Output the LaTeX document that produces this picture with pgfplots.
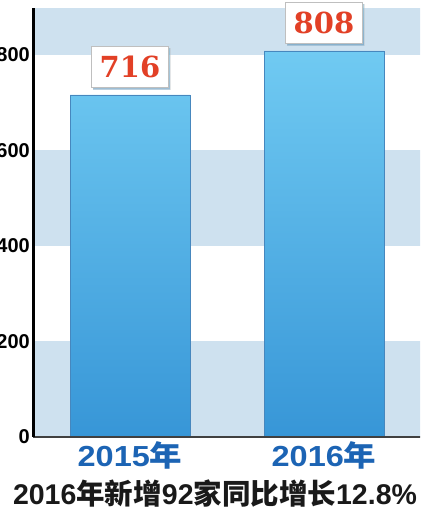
\documentclass[border=0pt]{standalone}
\usepackage{fontspec}
\usepackage{pgfplots}
\pgfplotsset{compat=1.18}
\usetikzlibrary{shadows}
\setmainfont{Liberation Sans}
\newfontfamily\cjk{Noto Sans CJK SC}
\newfontfamily\valfont{DejaVu Serif}
\newfontfamily\catfont[FakeStretch=1.12]{Liberation Sans}
\newfontfamily\catcjk[FakeStretch=1.12]{Noto Sans CJK SC}
\definecolor{band}{RGB}{206,225,239}
\definecolor{bartop}{RGB}{112,202,242}
\definecolor{barbot}{RGB}{55,150,215}
\definecolor{baredge}{RGB}{70,135,190}
\definecolor{valred}{RGB}{226,64,38}
\definecolor{catblue}{RGB}{28,100,180}
\begin{document}
\begin{tikzpicture}
\useasboundingbox (0,0) rectangle (420pt,516pt);
\clip (0,0) rectangle (420pt,516pt);
\begin{axis}[
  at={(33pt,79pt)}, anchor=south west,
  scale only axis, width=407.4pt, height=429pt,
  xmin=-0.5, xmax=1.6, ymin=0, ymax=898,
  axis x line=bottom, axis y line=left,
  axis line style={-},
  x axis line style={draw=black!75, line width=1.5pt},
  y axis line style={draw=black, line width=3pt},
  axis on top,
  major tick length=0pt,
  ytick={0,200,400,600,800},
  xtick={0,1},
  xticklabels={{\catfont 2015}{\catcjk 年},{\catfont 2016}{\catcjk 年}},
  /pgf/number format/assume math mode=true,
  yticklabel style={font=\bfseries\fontsize{20}{20}\selectfont, anchor=east, inner sep=0pt, xshift=-3pt},
  xticklabel style={font=\bfseries\fontsize{29}{29}\selectfont, text=catblue, anchor=north, inner sep=0pt, yshift=-4pt},
  ybar, bar width=120pt,
  nodes near coords,
  every node near coord/.append style={font=\valfont\bfseries\fontsize{29}{29}\selectfont, text=valred, fill=white, draw=black!25, minimum width=77pt, minimum height=41pt, inner sep=0pt, anchor=south, yshift=7pt, drop shadow={shadow xshift=1.5pt, shadow yshift=-1.5pt, opacity=0.35}},
]
\fill[band] (axis cs:-0.5,0) rectangle (axis cs:1.6,200);
\fill[band] (axis cs:-0.5,400) rectangle (axis cs:1.6,600);
\fill[band] (axis cs:-0.5,800) rectangle (axis cs:1.6,898);
\addplot[draw=baredge, line width=0.6pt, top color=bartop, bottom color=barbot] coordinates {(0,716) (1,808)};
\end{axis}
\node[font=\bfseries\fontsize{28.5}{28.5}\selectfont, text=black!90] at (215pt,22pt) {2016{\cjk 年新增}92{\cjk 家同比增长}12.8\%};
\end{tikzpicture}
\end{document}
